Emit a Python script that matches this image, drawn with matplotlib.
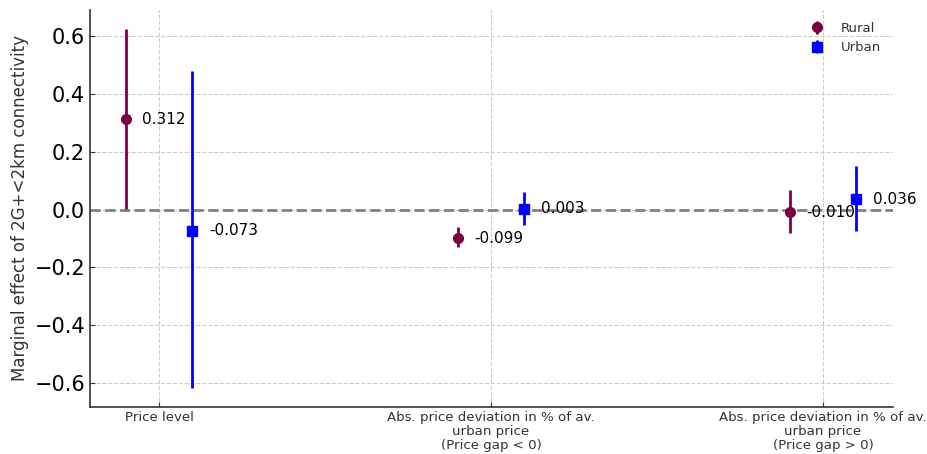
import matplotlib
matplotlib.use("Agg")
import matplotlib.pyplot as plt
import numpy as np

categories = ["Price level",
              "Abs. price deviation in % of av.\nurban price\n(Price gap < 0)",
              "Abs. price deviation in % of av.\nurban price\n(Price gap > 0)"]
rural_est = [0.312, -0.099, -0.010]
rural_lo = [0.002, -0.131, -0.080]
rural_hi = [0.623, -0.062, 0.066]
urban_est = [-0.073, 0.003, 0.036]
urban_lo = [-0.616, -0.052, -0.073]
urban_hi = [0.478, 0.062, 0.149]

rural_color = "#7b0041"
urban_color = "#0000ff"

fig = plt.figure(figsize=(9.28, 4.54), dpi=100)
ax = fig.add_axes([0.097, 0.1035, 0.865, 0.8745])

x = np.arange(len(categories))
off = 0.1
re = np.array(rural_est); ue = np.array(urban_est)
ax.errorbar(x - off, re, yerr=[re - np.array(rural_lo), np.array(rural_hi) - re],
            fmt='o', color=rural_color, ecolor=rural_color, elinewidth=2,
            markersize=7, capsize=0, label="Rural", zorder=3)
ax.errorbar(x + off, ue, yerr=[ue - np.array(urban_lo), np.array(urban_hi) - ue],
            fmt='s', color=urban_color, ecolor=urban_color, elinewidth=2,
            markersize=7, capsize=0, label="Urban", zorder=3)

for xi, v in zip(x - off, re):
    ax.text(xi + 0.05, v, f"{v:.3f}", va='center', ha='left', fontsize=11, zorder=4)
for xi, v in zip(x + off, ue):
    ax.text(xi + 0.05, v, f"{v:.3f}", va='center', ha='left', fontsize=11, zorder=4)

ax.axhline(0, color='gray', linestyle='--', linewidth=2, zorder=2)

ax.set_xticks(x)
ax.set_xticklabels(categories, fontsize=9.6, color='#333333', linespacing=1.1)
ax.set_xlim(-0.208, 2.21)
ax.set_ylim(-0.683, 0.69)
ax.set_yticks([-0.6, -0.4, -0.2, 0.0, 0.2, 0.4, 0.6])
ax.tick_params(axis='y', labelsize=15, direction='in', color='#333333')
ax.tick_params(axis='x', direction='in', color='#333333', pad=3)
ax.set_ylabel("Marginal effect of 2G+<2km connectivity", fontsize=12, color='#333333')

ax.grid(True, linestyle='--', color='#cccccc', linewidth=0.8)
ax.set_axisbelow(True)
for s in ['top', 'right']:
    ax.spines[s].set_visible(False)
for s in ['left', 'bottom']:
    ax.spines[s].set_color('#333333')
    ax.spines[s].set_linewidth(1.2)

leg = ax.legend(loc='upper right', frameon=False, fontsize=9.5, labelcolor='#333333')

fig.savefig("out.png", dpi=100)
